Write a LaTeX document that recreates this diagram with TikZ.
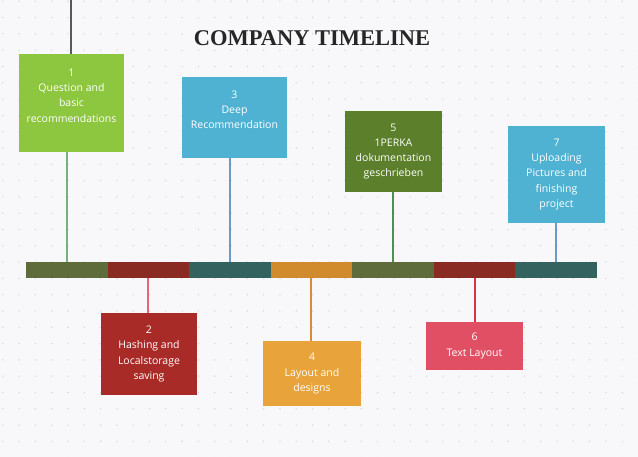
\documentclass[tikz,border=0pt]{standalone}
\usepackage{fontspec}
\setmainfont{Open Sans}
\newfontfamily\titlefont{Liberation Serif}
\definecolor{bgc}{HTML}{F8F8FA}
\definecolor{dotc}{HTML}{D6D7DD}
\definecolor{limeg}{HTML}{8DC63F}
\definecolor{skyb}{HTML}{50B2D3}
\definecolor{mossg}{HTML}{5B7F2B}
\definecolor{brickr}{HTML}{A82B27}
\definecolor{amber}{HTML}{E8A33B}
\definecolor{rosered}{HTML}{E04F64}
\definecolor{barolive}{HTML}{5E6B3B}
\definecolor{barred}{HTML}{892A23}
\definecolor{barteal}{HTML}{34625F}
\definecolor{barorange}{HTML}{D18B2D}
\definecolor{linesage}{HTML}{7DAE7F}
\definecolor{lineblue}{HTML}{6C9AC6}
\definecolor{linepink}{HTML}{E2687A}
\definecolor{linetan}{HTML}{D98A3A}
\definecolor{linegreen}{HTML}{4C9150}
\definecolor{linered}{HTML}{D53545}
\tikzset{
  tlbox/.style={minimum width=#1, inner sep=0pt, outer sep=0pt, text=white, align=center,
    font=\fontsize{10.5}{15.3}\selectfont},
  tlseg/.style={minimum width=81.6pt, minimum height=16pt, inner sep=0pt, outer sep=0pt},
  tlline/.style={line width=2pt}
}
\begin{document}
\begin{tikzpicture}[x=1pt,y=-1pt]
% canvas and dot grid
\useasboundingbox (0,0) rectangle (638,457);
\fill[bgc] (0,0) rectangle (638,457);
\foreach \x in {0,...,39}
  \foreach \y in {0,...,28}
    \fill[dotc] ({2.8+16.3*\x},{1.3+16.3*\y}) circle (0.8);
% title
\node[anchor=base, font=\titlefont\bfseries\fontsize{22.5}{27}\selectfont, text=black!85] (title) at (312,46) {COMPANY TIMELINE};
% the timeline bar, seven segments
\foreach \i/\c in {1/barolive,2/barred,3/barteal,4/barorange,5/barolive,6/barred,7/barteal}
  \node[tlseg, fill=\c] (s\i) at ({26+81.57*(\i-0.5)},270) {};
% boxes above the bar
\node[tlbox=105pt, minimum height=98pt, fill=limeg] (b1) at (71.5,103) {1\\Question and\\basic\\recommendations\\\mbox{}};
\node[tlbox=105pt, minimum height=81pt, fill=skyb] (b3) at (234.5,117.5) {3\\Deep\\Recommendation\\\mbox{}};
\node[tlbox=97pt, minimum height=81pt, fill=mossg] (b5) at (393.5,151.5) {5\\1PERKA\\dokumentation\\geschrieben};
\node[tlbox=97pt, minimum height=97pt, fill=skyb] (b7) at (556.5,174.5) {7\\Uploading\\Pictures and\\finishing\\project};
% boxes below the bar
\node[tlbox=96pt, minimum height=82pt, fill=brickr] (b2) at (149,354) {2\\Hashing and\\Localstorage\\saving};
\node[tlbox=98pt, minimum height=65pt, fill=amber] (b4) at (312,373.5) {4\\Layout and\\designs};
\node[tlbox=97pt, minimum height=48pt, fill=rosered] (b6) at (474.5,346) {6\\Text Layout};
% connectors
\coordinate (top) at (71,0);
\draw[line width=2pt, black!65] (b1.north -| top) -- (top);
\draw[tlline, linesage] (s1.north) -- (s1.north |- b1.south);
\draw[tlline, lineblue] (s3.north) -- (s3.north |- b3.south);
\draw[tlline, linegreen] (s5.north) -- (s5.north |- b5.south);
\draw[tlline, lineblue] (s7.north) -- (s7.north |- b7.south);
\draw[tlline, linepink] (s2.south) -- (s2.south |- b2.north);
\draw[tlline, linetan] (s4.south) -- (s4.south |- b4.north);
\draw[tlline, linered] (s6.south) -- (s6.south |- b6.north);
\end{tikzpicture}
\end{document}
